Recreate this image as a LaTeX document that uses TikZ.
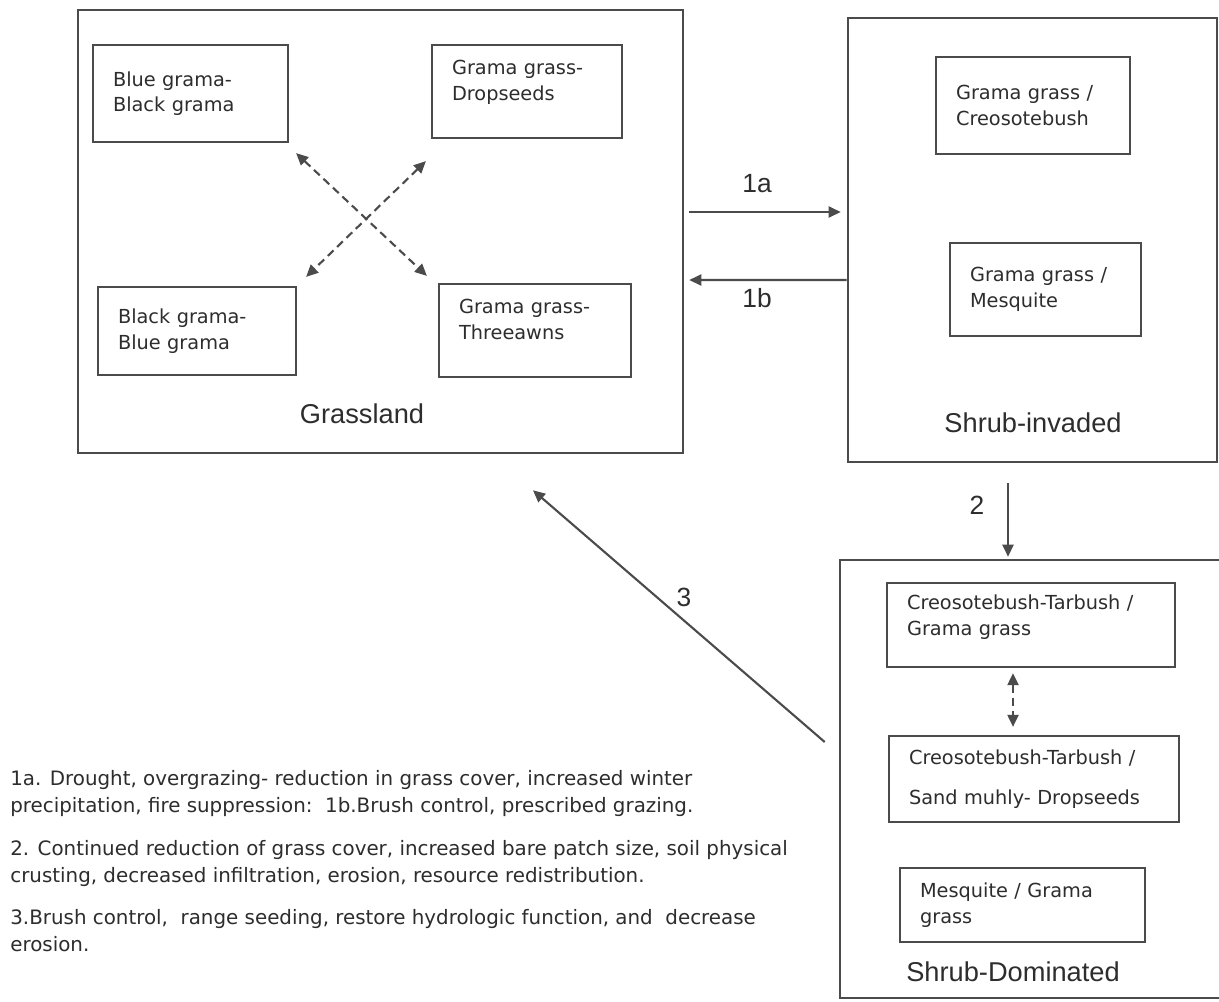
\documentclass[tikz,border=0pt]{standalone}
\usepackage{fontspec}
\setmainfont{Liberation Sans}
\newfontfamily\boxfont{DejaVu Sans}
\usetikzlibrary{arrows.meta,positioning}
\definecolor{linecol}{RGB}{75,75,75}
\definecolor{textcol}{RGB}{45,45,45}
\begin{document}
\begin{tikzpicture}[
  x=0.02cm, y=-0.02cm,
  outer/.style ={draw=linecol,line width=1.5pt,inner sep=0pt},
  state/.style ={draw=linecol,line width=1.3pt,align=left,inner xsep=0.4cm,
                 font=\boxfont\fontsize{11}{14.5}\selectfont,text=textcol},
  title/.style ={font=\fontsize{15.5}{18}\selectfont,text=textcol},
  num/.style   ={font=\fontsize{15}{18}\selectfont,text=textcol},
  note/.style  ={anchor=west,align=left,inner sep=0pt,text=textcol,
                 font=\boxfont\fontsize{11.3}{15.3}\selectfont},
  arr/.style   ={-{Triangle[length=2.4mm,width=2.2mm]},draw=linecol,line width=1.2pt},
  darr/.style  ={{Triangle[length=2.4mm,width=2.2mm]}-{Triangle[length=2.4mm,width=2.2mm]},
                 draw=linecol,line width=1.2pt,dash pattern=on 0.16cm off 0.1cm}
]
\clip (0,0) rectangle (1219,1001);
\fill[white] (0,0) rectangle (1219,1001);

% states
\node[outer,minimum width=12.1cm,minimum height=8.86cm] (grass) at (380.5,231.5) {};
\node[outer,minimum width=7.38cm,minimum height=8.88cm] (inv)   at (1032.5,240) {};
\node[outer,minimum width=7.7cm, minimum height=8.76cm] (sd)    at (1032.5,779) {};

\node[state,text width=3.1cm, minimum height=1.94cm] (bgbg) at (190.5,93.5)  {Blue grama-\\Black grama};
\node[state,text width=3.0cm, minimum height=1.86cm,text depth=0.96cm] (ggd) at (527,91.5) {Grama grass-\\Dropseeds};
\node[state,text width=3.16cm,minimum height=1.76cm] (bbbg) at (197,331)     {Black grama-\\Blue grama};
\node[state,text width=3.04cm,minimum height=1.86cm,text depth=0.96cm] (ggt) at (535,330.5) {Grama grass-\\Threeawns};
\node[title] (lgrass) at (362,414) {Grassland};

\node[state,text width=3.08cm,minimum height=1.94cm] (ggc)  at (1033,105.5)  {Grama grass /\\Creosotebush};
\node[state,text width=3.02cm,minimum height=1.86cm] (ggm)  at (1045.5,289.5) {Grama grass /\\Mesquite};
\node[title] (linv) at (1033,423) {Shrub-invaded};

\node[state,text width=4.96cm,minimum height=1.68cm,text depth=0.9cm] (ctg) at (1031,625) {Creosotebush-Tarbush /\\Grama grass};
\node[state,text width=5.0cm, minimum height=1.72cm] (cts)  at (1034,779)    {Creosotebush-Tarbush /\\[8pt]Sand muhly- Dropseeds};
\node[state,text width=4.1cm, minimum height=1.48cm] (mgg)  at (1022.5,905)  {Mesquite / Grama\\grass};
\node[title] (lsd) at (1013,972) {Shrub-Dominated};

% transitions
\draw[darr] ([shift={(7,10)}]bgbg.south east) -- ([shift={(-11,-7)}]ggt.north west);
\draw[darr] ([shift={(-5,22)}]ggd.south west) -- ([shift={(9,-9)}]bbbg.north east);
\draw[darr] ([shift={(-18,5)}]ctg.south) -- ([shift={(-21,-8)}]cts.north);

\draw[arr] ([shift={(5,-19.5)}]grass.east) -- ([shift={(-6,-28)}]inv.west);
\draw[arr] ([shift={(0,40)}]inv.west) -- ([shift={(5,48.5)}]grass.east);
\draw[arr] ([shift={(-24.5,20)}]inv.south) -- ([shift={(-24.5,-2)}]sd.north);
\draw[arr] ([shift={(-14,-37)}]sd.west) -- ([shift={(152.5,36)}]grass.south);

\node[num] (n1a) at (757,184) {1a};
\node[num] (n1b) at (757,298) {1b};
\node[num] (n2)  at (977,505) {2};
\node[num] (n3)  at (684,597) {3};

% notes
\node[note] (t1) at (10,793.5) {1a. Drought, overgrazing- reduction in grass cover, increased winter\\precipitation, fire suppression:\ \ 1b.Brush control, prescribed grazing.};
\node[note] (t2) at (10,863.5) {2. Continued reduction of grass cover, increased bare patch size, soil physical\\crusting, decreased infiltration, erosion, resource redistribution.};
\node[note] (t3) at (10,930.5) {3.Brush control,\ \ range seeding, restore hydrologic function, and\ \ decrease\\erosion.};
\end{tikzpicture}
\end{document}
